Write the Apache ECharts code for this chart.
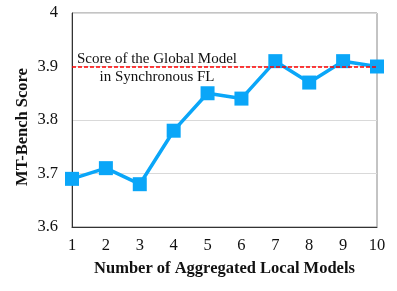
<!DOCTYPE html>
<html><head><meta charset="utf-8">
<script src="https://cdn.jsdelivr.net/npm/echarts@6/dist/echarts.min.js"></script>
<style>html,body{margin:0;padding:0;background:#fff}#c{width:397px;height:291px}</style>
</head><body><div id="c"></div>
<script>
const categories = ['1','2','3','4','5','6','7','8','9','10'];
const scores = [3.69, 3.71, 3.68, 3.78, 3.85, 3.84, 3.91, 3.87, 3.91, 3.90];
const globalScore = 3.9;
const yTicks = [3.6, 3.7, 3.8, 3.9, 4];
const font = '"Liberation Serif", "Times New Roman", serif';
const chart = echarts.init(document.getElementById('c'));
chart.setOption({
  animation: false,
  grid: {left: 72, right: 20, top: 13, bottom: 64, show: true, borderColor: '#888', borderWidth: 1},
  xAxis: {
    type: 'category', data: categories, boundaryGap: false,
    axisLine: {lineStyle: {color: '#333', width: 1}},
    axisTick: {show: false},
    axisLabel: {color: '#111', fontFamily: font, fontSize: 16.5, margin: 10},
    name: 'Number of Aggregated Local Models', nameLocation: 'middle', nameGap: 33,
    nameTextStyle: {color: '#111', fontFamily: font, fontSize: 16.5, fontWeight: 'bold'}
  },
  yAxis: {
    type: 'value', min: yTicks[0], max: yTicks[yTicks.length-1], interval: 0.1,
    axisLine: {show: true, lineStyle: {color: '#333', width: 1}},
    axisTick: {show: false},
    splitLine: {lineStyle: {color: '#d9d9d9'}},
    axisLabel: {color: '#111', fontFamily: font, fontSize: 16.5, margin: 14,
      formatter: v => String(parseFloat(v.toFixed(1)))},
    name: 'MT-Bench Score', nameLocation: 'middle', nameGap: 41, nameMoveOverlap: false,
    nameTextStyle: {color: '#111', fontFamily: font, fontSize: 16.5, fontWeight: 'bold', padding: [0, 14, 0, 0]}
  },
  series: [{
    type: 'line', data: scores, symbol: 'rect', symbolSize: 14,
    lineStyle: {color: '#0AA6F8', width: 3.5}, itemStyle: {color: '#0AA6F8'},
    markLine: {
      silent: true, symbol: 'none', label: {show: false},
      lineStyle: {color: '#ff0000', type: [4, 2], width: 1.5},
      data: [{yAxis: globalScore}]
    },
    z: 3
  }],
  graphic: [{
    type: 'text', x: 157, y: 50,
    style: {text: 'Score of the Global Model\nin Synchronous FL', align: 'center', verticalAlign: 'top',
      fill: '#111', font: '15px ' + font, lineHeight: 18}
  }]
});
</script></body></html>
